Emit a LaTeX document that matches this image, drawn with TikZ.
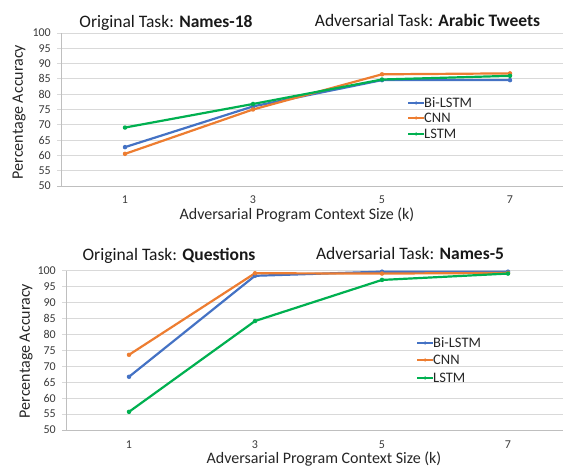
\documentclass[tikz,border=0pt]{standalone}
\usepackage{fontspec}
\setmainfont{Carlito}
\usetikzlibrary{calc}
\definecolor{cblue}{HTML}{4472C4}
\definecolor{corange}{HTML}{ED7D31}
\definecolor{cgreen}{HTML}{00B050}
\definecolor{gridc}{HTML}{D9D9D9}
\definecolor{axisc}{HTML}{BFBFBF}
\definecolor{tickc}{HTML}{3A3A3A}
\tikzset{
  gridline/.style={draw=gridc, line width=0.9pt},
  axisline/.style={draw=axisc, line width=0.9pt},
  ticklabel/.style={font=\fontsize{12}{13}\selectfont, text=tickc, inner sep=0pt},
  axistitle/.style={font=\fontsize{16}{18}\selectfont, text=black!85, inner sep=0pt},
  charttitle/.style={font=\fontsize{17.5}{20}\selectfont, text=black!90, inner sep=0pt, anchor=base},
  legendtext/.style={font=\fontsize{14.5}{16}\selectfont, text=black!85, inner sep=0pt, anchor=west},
  series/.style={line width=2.2pt, line join=round, line cap=round},
  dot/.style={circle, fill, inner sep=0pt, minimum size=4.5pt},
}
\begin{document}
\begin{tikzpicture}
\useasboundingbox (0,0) rectangle (565pt,466pt);

% ---------------- upper chart: Names-18 -> Arabic Tweets ----------------
\begin{scope}[x=1pt, y=3.06pt, shift={(0pt,127pt)}]
  \foreach \v in {55,60,...,100} {
    \draw[gridline] (57,\v) -- (563,\v);
    \node[ticklabel, anchor=east] at (51,\v) {\v};
  }
  \node[ticklabel, anchor=east] at (51,50) {50};
  \draw[axisline] (57,50) -- (563,50);
  \draw[axisline] (61,50) -- (61,100);
  \foreach \k/\x in {1/125,3/253,5/382,7/510}
    \node[ticklabel] (ta\k) at (\x,45.45) {\k};

  % data points
  \foreach \n/\x/\v in {1/125/62.7, 2/253/76.0, 3/382/84.6, 4/510/84.6}
    \coordinate (ab\n) at (\x,\v);
  \foreach \n/\x/\v in {1/125/60.5, 2/253/75.0, 3/382/86.5, 4/510/86.8}
    \coordinate (ac\n) at (\x,\v);
  \foreach \n/\x/\v in {1/125/69.1, 2/253/76.8, 3/382/84.8, 4/510/86.0}
    \coordinate (al\n) at (\x,\v);

  \draw[series, cblue] (ab1) -- (ab2) -- (ab3) -- (ab4);
  \draw[series, corange] (ac1) -- (ac2) -- (ac3) -- (ac4);
  \draw[series, cgreen] (al1) -- (al2) -- (al3) -- (al4);
  \foreach \n in {1,...,4} {
    \node[dot, cblue] at (ab\n) {};
    \node[dot, corange] at (ac\n) {};
    \node[dot, cgreen] at (al\n) {};
  }
\end{scope}

% upper legend
\foreach \c/\y/\t in {cblue/363/Bi-LSTM, corange/348/CNN, cgreen/332/LSTM} {
  \coordinate (la\t) at (408pt,\y pt);
  \coordinate (lb\t) at (424pt,\y pt);
  \draw[\c, line width=2.2pt] (la\t) -- (lb\t);
  \node[dot, \c, minimum size=3.5pt] at ($(la\t)!0.5!(lb\t)$) {};
  \node[legendtext] at (lb\t) {\t};
}

\node[charttitle] (t1) at (166pt,438pt) {Original Task: \textbf{Names-18}};
\node[charttitle] (t2) at (427.5pt,439pt) {Adversarial Task: \textbf{Arabic Tweets}};
\node[axistitle] (xa) at (297pt,251pt) {Adversarial Program Context Size (k)};
\node[axistitle, rotate=90] (ya) at (19pt,354pt) {Percentage Accuracy};

% ---------------- lower chart: Questions -> Names-5 ----------------
\begin{scope}[x=1pt, y=3.186pt, shift={(0pt,-123.3pt)}]
  \foreach \v in {55,60,...,100} {
    \draw[gridline] (62,\v) -- (563,\v);
    \node[ticklabel, anchor=east] at (56,\v) {\v};
  }
  \node[ticklabel, anchor=east] at (56,50) {50};
  \draw[axisline] (62,50) -- (563,50);
  \draw[axisline] (66,50) -- (66,100);
  \foreach \k/\x in {1/129,3/255,5/382,7/508}
    \node[ticklabel] (tb\k) at (\x,45.3) {\k};

  \foreach \n/\x/\v in {1/129/66.7, 2/255/98.4, 3/382/99.7, 4/508/99.7}
    \coordinate (bb\n) at (\x,\v);
  \foreach \n/\x/\v in {1/129/73.6, 2/255/99.2, 3/382/99.1, 4/508/99.3}
    \coordinate (bc\n) at (\x,\v);
  \foreach \n/\x/\v in {1/129/55.7, 2/255/84.2, 3/382/97.1, 4/508/99.1}
    \coordinate (bl\n) at (\x,\v);

  \draw[series, cblue] (bb1) -- (bb2) -- (bb3) -- (bb4);
  \draw[series, corange] (bc1) -- (bc2) -- (bc3) -- (bc4);
  \draw[series, cgreen] (bl1) -- (bl2) -- (bl3) -- (bl4);
  \foreach \n in {1,...,4} {
    \node[dot, cblue] at (bb\n) {};
    \node[dot, corange] at (bc\n) {};
    \node[dot, cgreen] at (bl\n) {};
  }
\end{scope}

% lower legend
\foreach \c/\y/\t in {cblue/123/Bi-LSTM, corange/106/CNN, cgreen/88/LSTM} {
  \coordinate (ma\t) at (417pt,\y pt);
  \coordinate (mb\t) at (433pt,\y pt);
  \draw[\c, line width=2.2pt] (ma\t) -- (mb\t);
  \node[dot, \c, minimum size=3.5pt] at ($(ma\t)!0.5!(mb\t)$) {};
  \node[legendtext] at (mb\t) {\t};
}

\node[charttitle] (t3) at (169pt,205pt) {Original Task: \textbf{Questions}};
\node[charttitle] (t4) at (410pt,206pt) {Adversarial Task: \textbf{Names-5}};
\node[axistitle] (xb) at (324pt,7pt) {Adversarial Program Context Size (k)};
\node[axistitle, rotate=90] (yb) at (26pt,115pt) {Percentage Accuracy};
\end{tikzpicture}
\end{document}
